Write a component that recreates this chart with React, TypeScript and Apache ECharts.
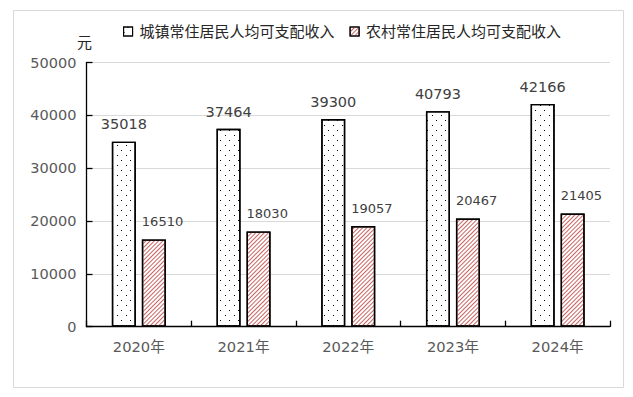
import React, { useEffect, useRef } from "react";
import * as echarts from "echarts";

const categories = ["2020年", "2021年", "2022年", "2023年", "2024年"];
const urbanIncome = [35018, 37464, 39300, 40793, 42166];
const ruralIncome = [16510, 18030, 19057, 20467, 21405];
const seriesNames = ["城镇常住居民人均可支配收入", "农村常住居民人均可支配收入"];
const yTicks = [0, 10000, 20000, 30000, 40000, 50000];

const FONT = "'DejaVu Sans', 'Noto Sans CJK SC', sans-serif";

export default function App() {
  const ref = useRef<HTMLDivElement>(null);
  useEffect(() => {
    document.body.style.margin = "0";
    const chart = echarts.init(ref.current!, null, { renderer: "svg" });
    const option = {
      animation: false,
      backgroundColor: "#ffffff",
      textStyle: { fontFamily: FONT },
      graphic: [
        {
          type: "rect",
          shape: { x: 13.5, y: 10.5, width: 610, height: 377 },
          style: { fill: "none", stroke: "#d9d9d9", lineWidth: 1 },
          silent: true,
          z: -10,
        },
      ],
      legend: {
        left: 123,
        top: 24,
        padding: 0,
        icon: "rect",
        itemWidth: 9,
        itemHeight: 9,
        itemGap: 15,
        itemStyle: { borderWidth: 1.1, borderColor: "#000000" },
        textStyle: { fontSize: 15, color: "#262626", fontFamily: FONT, padding: [0, 0, 0, 2] },
        data: seriesNames,
      },
      grid: { left: 86.5, right: 23, top: 62.5, bottom: 70.3, containLabel: false },
      xAxis: {
        type: "category",
        data: categories,
        axisLine: { lineStyle: { color: "#000000", width: 1.3 } },
        axisTick: { show: true, inside: true, length: 6, lineStyle: { color: "#000000", width: 1.3 } },
        axisLabel: { fontSize: 14.7, color: "#595959", margin: 12, fontFamily: FONT },
      },
      yAxis: {
        type: "value",
        min: yTicks[0],
        max: yTicks[yTicks.length - 1],
        interval: 10000,
        name: "元",
        nameLocation: "end",
        nameGap: 12,
        nameTextStyle: { fontSize: 15, color: "#262626", padding: [0, 4, 0, 0], fontFamily: FONT },
        axisLine: { show: true, lineStyle: { color: "#000000", width: 1.3 } },
        axisTick: { show: true, inside: true, length: 6, lineStyle: { color: "#000000", width: 1.3 } },
        axisLabel: {
          fontSize: 14.5,
          color: "#595959",
          margin: 10,
          fontFamily: FONT,
          formatter: (v: number) => String(v),
        },
        splitLine: { lineStyle: { color: "#d9d9d9", width: 1 } },
      },
      series: [
        {
          name: seriesNames[0],
          type: "bar",
          data: urbanIncome,
          barWidth: 24,
          barGap: "25%",
          itemStyle: {
            color: "#ffffff",
            borderColor: "#000000",
            borderWidth: 1.4,
            decal: {
              symbol: "rect",
              symbolSize: 1,
              color: "#000000",
              backgroundColor: "#ffffff",
              dashArrayX: [[1, 8], [0, 4, 1, 4]],
              dashArrayY: [1, 4],
              rotation: 0,
            },
          },
          label: {
            show: true,
            position: "top",
            distance: 10,
            fontSize: 14.5,
            color: "#404040",
            fontFamily: FONT,
          },
        },
        {
          name: seriesNames[1],
          type: "bar",
          data: ruralIncome,
          barWidth: 24,
          itemStyle: {
            color: "#ffffff",
            borderColor: "#000000",
            borderWidth: 1.4,
            decal: {
              symbol: "rect",
              symbolSize: 1,
              color: "#c86461",
              backgroundColor: "#ffffff",
              dashArrayX: [1, 0],
              dashArrayY: [1, 2],
              rotation: -Math.PI / 4,
            },
          },
          label: {
            show: true,
            position: [0, -18],
            align: "left",
            verticalAlign: "middle",
            fontSize: 13,
            color: "#404040",
            fontFamily: FONT,
          },
        },
      ],
    };
    chart.setOption(option as any);
    return () => chart.dispose();
  }, []);
  return <div ref={ref} style={{ width: 633, height: 397 }} />;
}
